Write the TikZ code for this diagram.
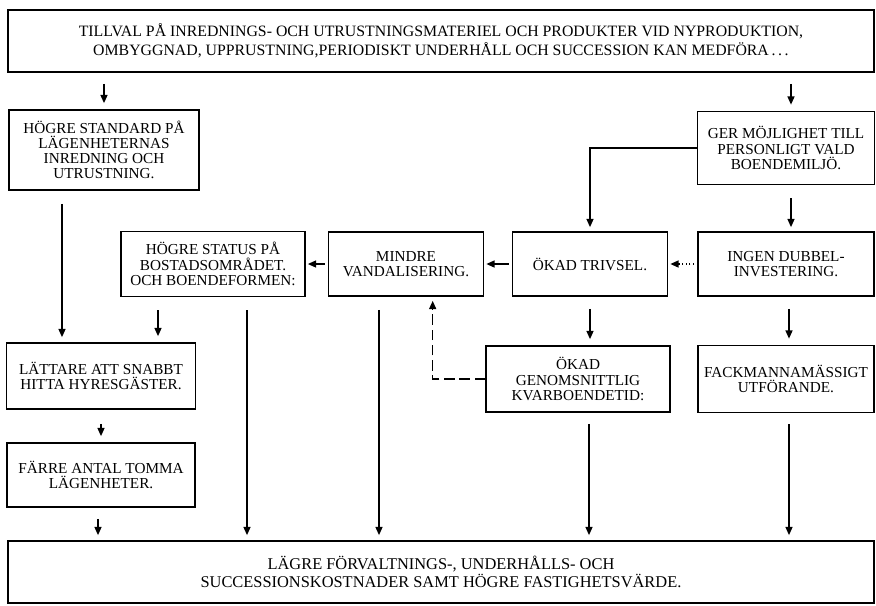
\documentclass[tikz,border=0pt]{standalone}
\usepackage{fontspec}
\setmainfont{Liberation Serif}
\usetikzlibrary{arrows.meta}
\tikzset{
  box/.style={draw, line width=1.5pt, align=center, inner sep=0pt, font=\fontsize{13}{13}\selectfont},
  widebox/.style={box, minimum width=25.98cm, minimum height=1.86cm},
  arr/.style={line width=1.1pt, -{Triangle[length=7pt,width=6pt]}},
}
\begin{document}
\begin{tikzpicture}[x=0.03cm, y=-0.03cm]
    \useasboundingbox (0,0) rectangle (876,605);
    \node[widebox, font=\fontsize{13.5}{16}\selectfont] (top) at (441,41) {TILLVAL PÅ INREDNINGS- OCH UTRUSTNINGSMATERIEL OCH PRODUKTER VID NYPRODUKTION,\\ OMBYGGNAD, UPPRUSTNING,PERIODISKT UNDERHÅLL OCH SUCCESSION KAN MEDFÖRA\,.\,.\,.};
    \node[box, minimum width=5.7cm, minimum height=2.4cm] (std) at (104,150) {HÖGRE STANDARD PÅ\\LÄGENHETERNAS\\INREDNING OCH\\UTRUSTNING.};
    \node[box, minimum width=5.31cm, minimum height=2.19cm] (ger) at (786,148) {GER MÖJLIGHET TILL\\PERSONLIGT VALD\\BOENDEMILJÖ.};
    \node[box, minimum width=5.52cm, minimum height=1.95cm] (status) at (213,264) {HÖGRE STATUS PÅ\\BOSTADSOMRÅDET.\\OCH BOENDEFORMEN:};
    \node[box, minimum width=4.65cm, minimum height=1.92cm] (mindre) at (406,264) {MINDRE\\VANDALISERING.};
    \node[box, minimum width=4.65cm, minimum height=1.92cm] (trivsel) at (590,264) {ÖKAD TRIVSEL.};
    \node[box, minimum width=5.28cm, minimum height=1.92cm] (ingen) at (786,264) {INGEN DUBBEL-\\INVESTERING.};
    \node[box, minimum width=5.67cm, minimum height=1.98cm] (lattare) at (101,376) {LÄTTARE ATT SNABBT\\HITTA HYRESGÄSTER.};
    \node[box, minimum width=5.64cm, minimum height=1.92cm] (farre) at (101,475) {FÄRRE ANTAL TOMMA\\LÄGENHETER.};
    \node[box, minimum width=5.52cm, minimum height=1.98cm] (genoms) at (578,379) {ÖKAD\\GENOMSNITTLIG\\KVARBOENDETID:};
    \node[box, minimum width=5.28cm, minimum height=2.01cm] (fack) at (786,379) {FACKMANNAMÄSSIGT\\UTFÖRANDE.};
    \node[widebox, font=\fontsize{14}{15}\selectfont] (bottom) at (441,572) {LÄGRE FÖRVALTNINGS-, UNDERHÅLLS- OCH\\SUCCESSIONSKOSTNADER SAMT HÖGRE FASTIGHETSVÄRDE.};
    % top row
    \draw[arr, shorten <=0.33cm, shorten >=0.18cm] (top.south -| std.north) -- (std.north);
    \draw[arr, shorten <=0.33cm, shorten >=0.18cm] ([xshift=0.15cm]top.south -| ger.north) -- ([xshift=0.15cm]ger.north);
    \draw[arr, shorten >=0.12cm] (ger.west) -| (trivsel.north);
    \draw[arr, shorten <=0.39cm, shorten >=0.12cm] ([xshift=0.15cm]ger.south) -- ([xshift=0.15cm]ingen.north);
    % middle row
    \draw[arr, dotted, shorten <=0.09cm, shorten >=0.06cm] (ingen.west) -- (trivsel.east);
    \draw[arr, shorten <=0.09cm, shorten >=0.06cm] (trivsel.west) -- (mindre.east);
    \draw[arr, shorten <=0.09cm, shorten >=0.06cm] (mindre.west) -- (status.east);
    \draw[arr, shorten <=0.39cm, shorten >=0.15cm] ([xshift=-1.26cm]std.south) -- ([xshift=-1.26cm]std.south |- lattare.north);
    \draw[arr, shorten <=0.39cm, shorten >=0.18cm] ([xshift=-1.65cm]status.south) -- ([xshift=-1.65cm]status.south |- lattare.north);
    \draw[arr, shorten <=0.36cm, shorten >=0.18cm] (trivsel.south) -- (trivsel.south |- genoms.north);
    \draw[arr, shorten <=0.36cm, shorten >=0.18cm] ([xshift=0.09cm]ingen.south) -- ([xshift=0.09cm]ingen.south |- fack.north);
    \draw[arr, dash pattern=on 9pt off 4pt, shorten >=0.12cm] (genoms.west) -| ([xshift=0.8cm]mindre.south);
    \draw[arr, shorten <=0.42cm, shorten >=0.18cm] (lattare.south) -- (lattare.south |- farre.north);
    % into the bottom box
    \draw[arr, shorten <=0.33cm, shorten >=0.15cm] ([xshift=-0.09cm]farre.south) -- ([xshift=-0.09cm]farre.south |- bottom.north);
    \draw[arr, shorten <=0.39cm, shorten >=0.15cm] ([xshift=1.02cm]status.south) -- ([xshift=1.02cm]status.south |- bottom.north);
    \draw[arr, shorten <=0.39cm, shorten >=0.15cm] ([xshift=-0.81cm]mindre.south) -- ([xshift=-0.81cm]mindre.south |- bottom.north);
    \draw[arr, shorten <=0.33cm, shorten >=0.15cm] ([xshift=0.33cm]genoms.south) -- ([xshift=0.33cm]genoms.south |- bottom.north);
    \draw[arr, shorten <=0.33cm, shorten >=0.15cm] ([xshift=0.09cm]fack.south) -- ([xshift=0.09cm]fack.south |- bottom.north);
\end{tikzpicture}
\end{document}
